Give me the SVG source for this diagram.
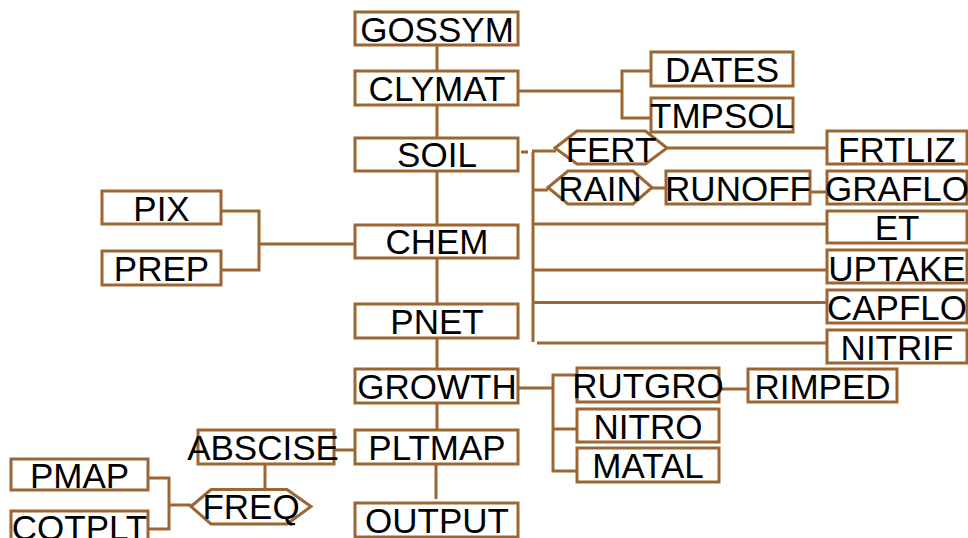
<svg xmlns="http://www.w3.org/2000/svg" width="968" height="538" viewBox="0 0 968 538">
<style>
.b{fill:#fff;stroke:#9c6632;stroke-width:3}
.c{fill:none;stroke:#9c6632;stroke-width:3}
text{font-family:"Liberation Sans",Arial,sans-serif;font-size:35px;fill:#000;text-anchor:middle}
</style>
<rect width="968" height="538" fill="#fff"/>
<g id="connectors" class="c">
<path d="M437 45V71M437 104V138M437 171V225M437 258V304M437 338V369M437 403V430M436 464V499"/>
<path d="M518 91H622M651 71H622V118H651"/>
<path d="M521 152H528M533 152V342M532 151H556M533 190H548M533 224H827M533 270H827M533 302.5H827M537 343H830"/>
<path d="M667 148H827M652 188H666M810 192H827"/>
<path d="M221 211H259V270H221M259 244H355"/>
<path d="M518 388H553M578 375H553V471H578M553 429H578M719 389H748"/>
<path d="M334 450H355M265 464V490M148 478H169V529H148M169 505H191"/>
</g>
<g id="GOSSYM"><rect class="b" x="355" y="12" width="163" height="33"/><text x="437" y="42">GOSSYM</text></g>
<g id="CLYMAT"><rect class="b" x="355" y="71" width="163" height="34"/><text x="437" y="100.5">CLYMAT</text></g>
<g id="SOIL"><rect class="b" x="355" y="138" width="163" height="33"/><text x="437" y="167">SOIL</text></g>
<g id="CHEM"><rect class="b" x="355" y="225" width="163" height="33"/><text x="437" y="254">CHEM</text></g>
<g id="PNET"><rect class="b" x="355" y="304" width="163" height="34"/><text x="437" y="333.5">PNET</text></g>
<g id="GROWTH"><rect class="b" x="355" y="369" width="163" height="34"/><text x="437" y="398.5">GROWTH</text></g>
<g id="PLTMAP"><rect class="b" x="355" y="430" width="163" height="34"/><text x="437" y="459.5">PLTMAP</text></g>
<g id="OUTPUT"><rect class="b" x="355" y="503" width="163" height="34"/><text x="437" y="532.5">OUTPUT</text></g>
<g id="DATES"><rect class="b" x="651" y="52" width="142" height="34"/><text x="722" y="81.5">DATES</text></g>
<g id="TMPSOL"><rect class="b" x="651" y="98" width="142" height="34"/><text x="722" y="127.5">TMPSOL</text></g>
<g id="FERT"><polygon class="b" points="555,148 577,131 645.5,131 667,148 645.5,164 577,164"/><text x="611" y="161.5">FERT</text></g>
<g id="RAIN"><polygon class="b" points="548,187.5 568,171 633,171 652,187.5 633,204 568,204"/><text x="600" y="201">RAIN</text></g>
<g id="RUNOFF"><rect class="b" x="666" y="171" width="144" height="33"/><text x="738" y="201">RUNOFF</text></g>
<g id="FRTLIZ"><rect class="b" x="827" y="131" width="140" height="33"/><text x="897" y="161.5">FRTLIZ</text></g>
<g id="GRAFLO"><rect class="b" x="827" y="171" width="140" height="33"/><text x="897" y="201">GRAFLO</text></g>
<g id="ET"><rect class="b" x="827" y="211" width="140" height="32"/><text x="897" y="239.5">ET</text></g>
<g id="UPTAKE"><rect class="b" x="827" y="250" width="140" height="33"/><text x="897" y="280.5">UPTAKE</text></g>
<g id="CAPFLO"><rect class="b" x="827" y="290" width="140" height="33"/><text x="897" y="319.5">CAPFLO</text></g>
<g id="NITRIF"><rect class="b" x="827" y="330" width="140" height="33"/><text x="897" y="359.5">NITRIF</text></g>
<g id="PIX"><rect class="b" x="102" y="191" width="119" height="33"/><text x="161.5" y="220.5">PIX</text></g>
<g id="PREP"><rect class="b" x="102" y="251" width="119" height="34"/><text x="161.5" y="280.5">PREP</text></g>
<g id="RUTGRO"><rect class="b" x="577" y="368" width="142" height="34"/><text x="648" y="398">RUTGRO</text></g>
<g id="NITRO"><rect class="b" x="577" y="409" width="142" height="33"/><text x="648" y="438.5">NITRO</text></g>
<g id="MATAL"><rect class="b" x="577" y="448" width="142" height="34"/><text x="648" y="478">MATAL</text></g>
<g id="RIMPED"><rect class="b" x="748" y="369" width="149" height="33"/><text x="822.5" y="398.5">RIMPED</text></g>
<g id="ABSCISE"><rect class="b" x="198" y="430" width="136" height="34"/><text x="263" y="459.5">ABSCISE</text></g>
<g id="FREQ"><polygon class="b" points="191,506.5 211,489.5 287,489.5 311,506.5 287,524 211,524"/><text x="251" y="519">FREQ</text></g>
<g id="PMAP"><rect class="b" x="11" y="459" width="137" height="31"/><text x="79.5" y="488">PMAP</text></g>
<g id="COTPLT"><rect class="b" x="11" y="511" width="137" height="34"/><text x="79.5" y="540">COTPLT</text></g>
</svg>
